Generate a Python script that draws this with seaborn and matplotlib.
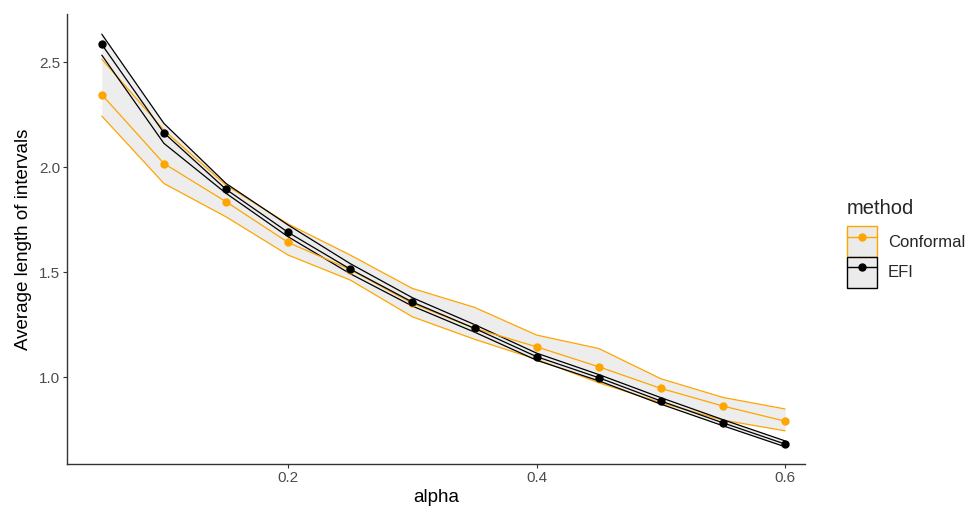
import numpy as np
import pandas as pd
import seaborn as sns
import matplotlib.pyplot as plt
from matplotlib.patches import Patch
from matplotlib.lines import Line2D
from matplotlib.legend_handler import HandlerTuple

# values
alpha = [0.05, 0.10, 0.15, 0.20, 0.25, 0.30, 0.35, 0.40, 0.45, 0.50, 0.55, 0.60]

efi_mean = [2.584, 2.163, 1.894, 1.689, 1.514, 1.357, 1.232, 1.097, 0.997, 0.886, 0.782, 0.681]
efi_low = [2.533, 2.113, 1.875, 1.668, 1.492, 1.338, 1.214, 1.080, 0.982, 0.871, 0.768, 0.668]
efi_high = [2.633, 2.208, 1.922, 1.724, 1.540, 1.378, 1.250, 1.114, 1.012, 0.902, 0.797, 0.696]

conf_mean = [2.345, 2.017, 1.835, 1.641, 1.512, 1.351, 1.232, 1.144, 1.049, 0.946, 0.862, 0.790]
conf_low = [2.243, 1.922, 1.763, 1.581, 1.462, 1.287, 1.180, 1.084, 0.973, 0.878, 0.795, 0.744]
conf_high = [2.514, 2.176, 1.914, 1.729, 1.581, 1.422, 1.332, 1.200, 1.136, 0.992, 0.903, 0.848]

methods = ['Conformal', 'EFI']
colors = {'Conformal': '#FFA500', 'EFI': '#000000'}

df = pd.concat([
    pd.DataFrame({'alpha': alpha, 'length': conf_mean, 'lo': conf_low, 'hi': conf_high, 'method': 'Conformal'}),
    pd.DataFrame({'alpha': alpha, 'length': efi_mean, 'lo': efi_low, 'hi': efi_high, 'method': 'EFI'}),
])

sns.set_style('white')
plt.rcParams['font.family'] = ['Liberation Sans', 'DejaVu Sans']
fig = plt.figure(figsize=(9.79, 5.17), dpi=100)
ax = fig.add_axes([67 / 979, 53 / 517, 738 / 979, 450 / 517])

# ribbons first, then the mean lines on top
for m in methods:
    d = df[df.method == m]
    ax.fill_between(d.alpha, d.lo, d.hi, color='#EBEBEB', alpha=0.9, lw=0, zorder=1)
    ax.plot(d.alpha, d.lo, color=colors[m], lw=0.9, zorder=2)
    ax.plot(d.alpha, d.hi, color=colors[m], lw=0.9, zorder=2)

sns.lineplot(data=df, x='alpha', y='length', hue='method', palette=colors,
             marker='o', markersize=6, markeredgewidth=0, lw=0.9, legend=False, ax=ax, zorder=3)

ax.set_xlim(0.022, 0.616)
ax.set_ylim(0.586, 2.729)
ax.set_xticks([0.2, 0.4, 0.6])
ax.set_yticks([1.0, 1.5, 2.0, 2.5])
ax.set_xticklabels(['0.2', '0.4', '0.6'])
ax.set_yticklabels(['1.0', '1.5', '2.0', '2.5'])
ax.tick_params(axis='both', length=3, width=0.8, color='#333333', labelcolor='#4D4D4D',
               labelsize=11, pad=2, left=True, bottom=True)
ax.set_xlabel('alpha', fontsize=13.5, color='black', labelpad=3)
ax.set_ylabel('Average length of intervals', fontsize=13.5, color='black', labelpad=5)

for s in ['top', 'right']:
    ax.spines[s].set_visible(False)
for s in ['left', 'bottom']:
    ax.spines[s].set_color('#333333')
    ax.spines[s].set_linewidth(1.0)

handles = []
for m in methods:
    box = Patch(facecolor='#EBEBEB', edgecolor=colors[m], lw=1.0)
    ln = Line2D([], [], color=colors[m], marker='o', markersize=5, lw=1.0)
    handles.append((box, ln))

leg = fig.legend(handles, methods, handler_map={tuple: HandlerTuple(ndivide=1, pad=0)},
                 loc='upper left', bbox_to_anchor=(847 / 979, 1 - 199 / 517),
                 frameon=False, title='method', fontsize=12, title_fontsize=14.5,
                 handlelength=1.8, handleheight=2.45, handletextpad=0.65, labelspacing=0.0,
                 borderaxespad=0, borderpad=0)
leg._legend_box.align = 'left'
# a bit of room between the title and the keys
leg._legend_box.sep = 6

fig.savefig('out.png', dpi=100)
